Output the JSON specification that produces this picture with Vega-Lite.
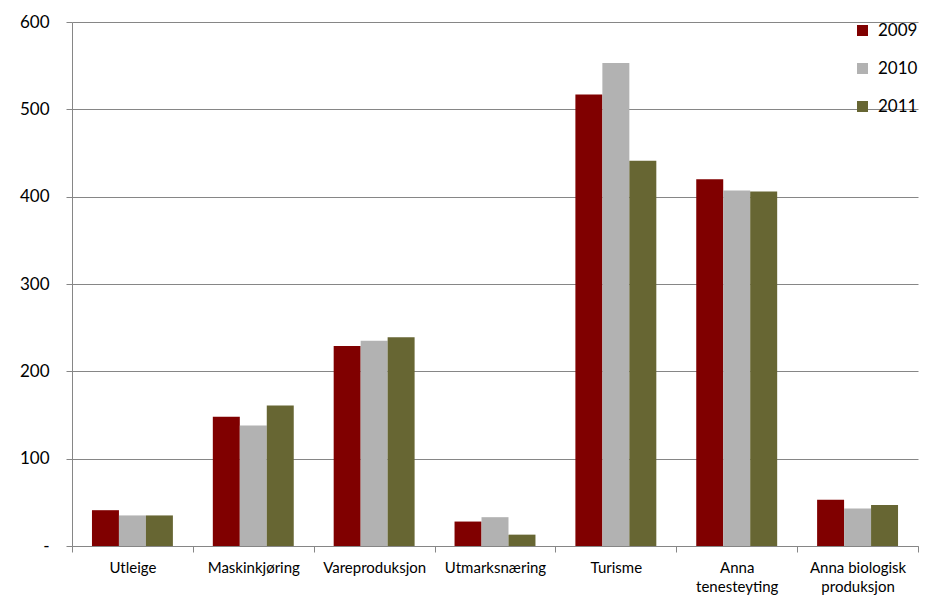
{
  "$schema": "https://vega.github.io/schema/vega-lite/v6.json",
  "width": 846,
  "height": 524,
  "autosize": {"type": "none"},
  "padding": {"left": 72, "top": 22, "right": 23, "bottom": 65},
  "background": "white",
  "config": {
    "view": {"stroke": null},
    "font": "Lato",
    "axis": {"labelFont": "Lato", "labelColor": "#000000"},
    "legend": {"labelFont": "Lato"}
  },
  "data": {
    "values": [
      {"kategori": "Utleige", "år": "2009", "verdi": 41},
      {"kategori": "Utleige", "år": "2010", "verdi": 35},
      {"kategori": "Utleige", "år": "2011", "verdi": 35},
      {"kategori": "Maskinkjøring", "år": "2009", "verdi": 148},
      {"kategori": "Maskinkjøring", "år": "2010", "verdi": 138},
      {"kategori": "Maskinkjøring", "år": "2011", "verdi": 161},
      {"kategori": "Vareproduksjon", "år": "2009", "verdi": 229},
      {"kategori": "Vareproduksjon", "år": "2010", "verdi": 235},
      {"kategori": "Vareproduksjon", "år": "2011", "verdi": 239},
      {"kategori": "Utmarksnæring", "år": "2009", "verdi": 28},
      {"kategori": "Utmarksnæring", "år": "2010", "verdi": 33},
      {"kategori": "Utmarksnæring", "år": "2011", "verdi": 13},
      {"kategori": "Turisme", "år": "2009", "verdi": 517},
      {"kategori": "Turisme", "år": "2010", "verdi": 553},
      {"kategori": "Turisme", "år": "2011", "verdi": 441},
      {"kategori": "Anna tenesteyting", "år": "2009", "verdi": 420},
      {"kategori": "Anna tenesteyting", "år": "2010", "verdi": 407},
      {"kategori": "Anna tenesteyting", "år": "2011", "verdi": 406},
      {"kategori": "Anna biologisk produksjon", "år": "2009", "verdi": 53},
      {"kategori": "Anna biologisk produksjon", "år": "2010", "verdi": 43},
      {"kategori": "Anna biologisk produksjon", "år": "2011", "verdi": 47}
    ]
  },
  "mark": {"type": "bar"},
  "encoding": {
    "x": {
      "field": "kategori",
      "type": "nominal",
      "sort": null,
      "scale": {"paddingInner": 0, "paddingOuter": 0},
      "axis": {
        "title": null,
        "labelAngle": 0,
        "labelFontSize": 15,
        "labelPadding": 8,
        "tickBand": "extent",
        "tickSize": 6,
        "tickColor": "#868686",
        "domainColor": "#868686",
        "labelLineHeight": 19,
        "labelExpr": "datum.label == 'Anna tenesteyting' ? ['Anna', 'tenesteyting'] : datum.label == 'Anna biologisk produksjon' ? ['Anna biologisk', 'produksjon'] : datum.label"
      }
    },
    "xOffset": {"field": "år", "type": "nominal", "scale": {"paddingInner": 0, "paddingOuter": 0.74}},
    "y": {
      "field": "verdi",
      "type": "quantitative",
      "scale": {"domain": [0, 600], "nice": false},
      "axis": {
        "title": null,
        "values": [0, 100, 200, 300, 400, 500, 600],
        "labelFontSize": 17,
        "labelPadding": 17,
        "tickSize": 6,
        "tickColor": "#868686",
        "domainColor": "#868686",
        "grid": true,
        "gridColor": "#868686",
        "gridWidth": 1,
        "labelExpr": "datum.value == 0 ? '-' : datum.label"
      }
    },
    "color": {
      "field": "år",
      "type": "nominal",
      "scale": {"domain": ["2009", "2010", "2011"], "range": ["#800000", "#b2b2b2", "#676633"]},
      "legend": {
        "title": null,
        "orient": "top-right",
        "offset": 0,
        "padding": 0,
        "symbolType": "square",
        "symbolSize": 121,
        "symbolStrokeWidth": 0,
        "labelFontSize": 17,
        "labelOffset": 7,
        "rowPadding": 20
      }
    }
  }
}
